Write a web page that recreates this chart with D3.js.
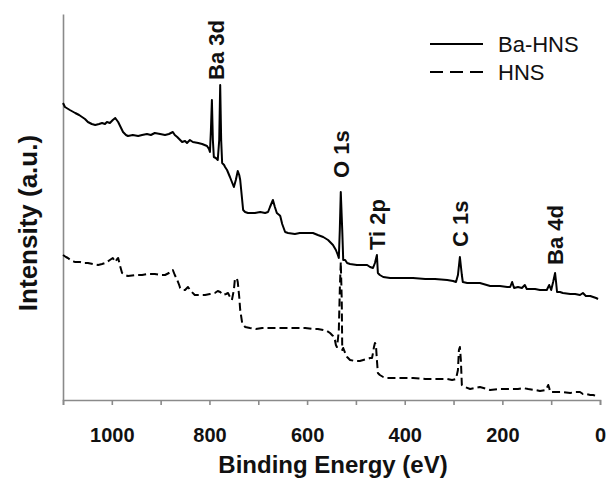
<!DOCTYPE html>
<html>
<head>
<meta charset="utf-8">
<script src="https://cdn.jsdelivr.net/npm/d3@7"></script>
<style>
  html, body { margin: 0; padding: 0; background: #fff; }
  svg { display: block; font-family: "Liberation Sans", Arial, sans-serif; }
</style>
</head>
<body>
<svg id="chart" width="606" height="484"></svg>
<script>
// ---- data: [binding energy (eV), intensity (a.u.)] ----
const baHNS = [
  [1100,148.5],[1096,146.5],[1086,145],[1075,143.5],[1067,142.5],[1061,141.5],[1055,140.5],[1049,139],
  [1041,138],[1034,137.5],[1026,138],[1020,138.5],[1014,138],[1010,139],[1004,138.5],[998,140],[993,141],
  [987,139],[981,136],[977,134],[971,132.5],[967,132],[957,132.5],[946,132],[938,132.5],[928,133],
  [920,132.5],[912,133.5],[901,133],[891,132.5],[883,133],[875,134],[871,132.5],[866,131.5],[860,130],
  [856,129],[850,129.5],[846,128.5],[840,130],[834,129],[823,128.5],[815,128],[805,127],[801,125.5],
  [799,124],[797,135],[795,150],[793,130],[791,121.5],[787,121],[783,120],[780,130],[778,157.5],[776,130],
  [774,118.5],[770,117.5],[768,116.5],[764,115],[758,111.5],[754,109],[750,106.5],[746,110],[742,114.5],
  [739,112.5],[737,110],[733,100],[731,95],[727,94],[721,93.5],[707,93.5],[696,94],[686,93.5],[680,94],
  [676,96.5],[670,100],[666,96.5],[662,93.5],[657,92.5],[655,92],[651,88],[645,84],[639,83.5],[625,83],
  [615,83.5],[604,83.5],[588,83.5],[578,82.5],[567,81.5],[557,80],[547,77.5],[541,75],[537,72.5],[535,71],
  [533,85],[531,104],[528,85],[526,70],[522,70],[518,68.5],[512,68],[498,67.5],[485,67.5],[477,67.5],
  [471,66.5],[465,66],[461,68.5],[457,72.5],[455,63.5],[451,62.5],[444,61.5],[430,61],[410,61],[383,61],
  [358,60.5],[338,60.5],[313,60],[301,59.5],[295,59],[291,62.5],[287,71.5],[283,62.5],[281,59],[272,58.5],
  [260,58.5],[246,58.5],[225,57],[205,57],[190,56.5],[184,56.5],[180,59],[176,56],[168,56.5],[160,56],
  [154,57.5],[150,55.5],[133,55.5],[123,55],[109,55],[104,57.5],[100,55],[96,59],[92,63.5],[90,59],
  [88,54],[82,54],[76,53.5],[61,53],[51,53],[41,52.5],[35,53.5],[29,52],[20,52],[14,51.5],[8,51],[4,50.5]
];
const hns = [
  [1100,72.5],[1094,71.5],[1090,71],[1082,69.5],[1075,69],[1065,69],[1057,68.5],[1049,68.5],[1039,68],
  [1028,67.5],[1020,68],[1014,68.5],[1010,69],[1004,70],[998,71],[993,69],[989,70.5],[987,71],[983,67],
  [979,63.5],[973,62.5],[967,62],[952,62.5],[938,62.5],[926,63],[912,63],[901,62.5],[891,62.5],[883,63.5],
  [875,65],[871,62.5],[866,60],[862,57.5],[860,56],[854,55],[850,55],[844,56.5],[838,54.5],[830,52.5],
  [819,52.5],[809,52.5],[799,53],[789,53.5],[783,54.5],[778,54],[772,52.5],[766,53],[762,53.5],[758,51.5],
  [754,50],[750,55],[748,60],[744,61],[742,59],[739,51.5],[737,45],[733,38.5],[727,36.5],[717,36],
  [705,35.5],[692,36],[676,36],[655,36],[639,36],[621,36],[604,36],[588,35.5],[578,35.5],[567,35],
  [559,34.5],[553,33.5],[547,32],[543,30],[541,27.5],[539,26.5],[537,30],[535,35],[533,55],[531,69],
  [529,50],[528,25],[526,26],[522,23.5],[518,21.5],[512,20],[502,19.5],[492,19.5],[485,20],[477,20.5],
  [471,21],[467,21],[465,23.5],[463,26.5],[461,28.5],[459,27.5],[457,20],[455,13.5],[451,12.5],[444,11.5],
  [436,11],[420,11],[399,11],[383,11],[358,10.5],[334,10.5],[313,10.5],[303,10],[295,10.5],[291,15],
  [289,25],[287,26.5],[285,20],[283,7.5],[277,6.5],[266,5.5],[246,6.5],[225,5],[205,5.5],[178,5.5],
  [168,5.5],[158,6],[147,5.5],[133,5],[123,4.5],[111,5],[106,7.5],[104,6],[102,4],[92,4],[76,4],[61,3.5],
  [51,4],[41,4],[35,3],[29,3],[20,2.5],[14,2.5],[8,2],[4,1.5]
];
const seriesNames = ["Ba-HNS", "HNS"];
const xTicks = [1100, 1000, 900, 800, 700, 600, 500, 400, 300, 200, 100, 0];
const xTickLabels = [1000, 800, 600, 400, 200, 0];
const peakLabels = ["Ba 3d", "O 1s", "Ti 2p", "C 1s", "Ba 4d"];
const peakEnergies = [786, 531, 457, 287, 92];
const peakLabelBase = [160, 111, 75, 76.5, 67.5]; // intensity where label starts

// ---- chart ----
const svg = d3.select("#chart");
svg.append("rect").attr("width", 606).attr("height", 484).attr("fill", "#fff");

const x = d3.scaleLinear().domain([1100, 0]).range([63, 600]);
const y = d3.scaleLinear().domain([0, 193]).range([400, 14]);

const axisColor = "#8a8a8a";

// y axis (no ticks)
const gy = svg.append("g").attr("transform", "translate(63,0)")
  .call(d3.axisLeft(y).tickValues([]).tickSizeOuter(0));
gy.select(".domain").attr("stroke", axisColor).attr("stroke-width", 1.6);

// x axis
const gx = svg.append("g").attr("transform", "translate(0,400)")
  .call(d3.axisBottom(x).tickValues(xTicks).tickSize(5).tickSizeOuter(5)
    .tickFormat(d => xTickLabels.includes(d) ? String(d) : ""));
gx.select(".domain").attr("stroke", axisColor).attr("stroke-width", 1.6);
gx.selectAll(".tick line").attr("stroke", axisColor).attr("stroke-width", 1.6);
gx.selectAll(".tick text")
  .attr("y", 28).attr("dy", "0.71em")
  .attr("fill", "#111").attr("font-size", 20).attr("font-weight", "bold")
  .attr("font-family", "'Liberation Sans', Arial, sans-serif");

// lines
const line = d3.line().x(d => x(d[0])).y(d => y(d[1]));
svg.append("path").datum(baHNS).attr("d", line)
  .attr("fill", "none").attr("stroke", "#000").attr("stroke-width", 2).attr("stroke-linejoin", "round");
svg.append("path").datum(hns).attr("d", line)
  .attr("fill", "none").attr("stroke", "#000").attr("stroke-width", 2)
  .attr("stroke-dasharray", "8,4").attr("stroke-linejoin", "round");

// peak labels
peakLabels.forEach((t, i) => {
  const px = x(peakEnergies[i]), py = y(peakLabelBase[i]);
  svg.append("text")
    .attr("transform", `translate(${px},${py}) rotate(-90)`)
    .attr("dy", "0.36em")
    .attr("font-size", 22).attr("font-weight", "bold").attr("fill", "#111")
    .text(t);
});

// axis titles
svg.append("text").attr("x", 333).attr("y", 473).attr("text-anchor", "middle")
  .attr("font-size", 24).attr("font-weight", "bold").attr("fill", "#111")
  .text("Binding Energy (eV)");
svg.append("text").attr("transform", "translate(37,223) rotate(-90)").attr("text-anchor", "middle")
  .attr("font-size", 26).attr("font-weight", "bold").attr("fill", "#111")
  .text("Intensity (a.u.)");

// legend
const legend = svg.append("g");
seriesNames.forEach((name, i) => {
  const ly = 44 + i * 28;
  legend.append("line").attr("x1", 430).attr("x2", 483).attr("y1", ly).attr("y2", ly)
    .attr("stroke", "#000").attr("stroke-width", 2)
    .attr("stroke-dasharray", i === 1 ? "13,7" : null);
  legend.append("text").attr("x", 498).attr("y", ly).attr("dy", "0.36em")
    .attr("font-size", 22).attr("fill", "#111").text(name);
});
</script>
</body>
</html>
